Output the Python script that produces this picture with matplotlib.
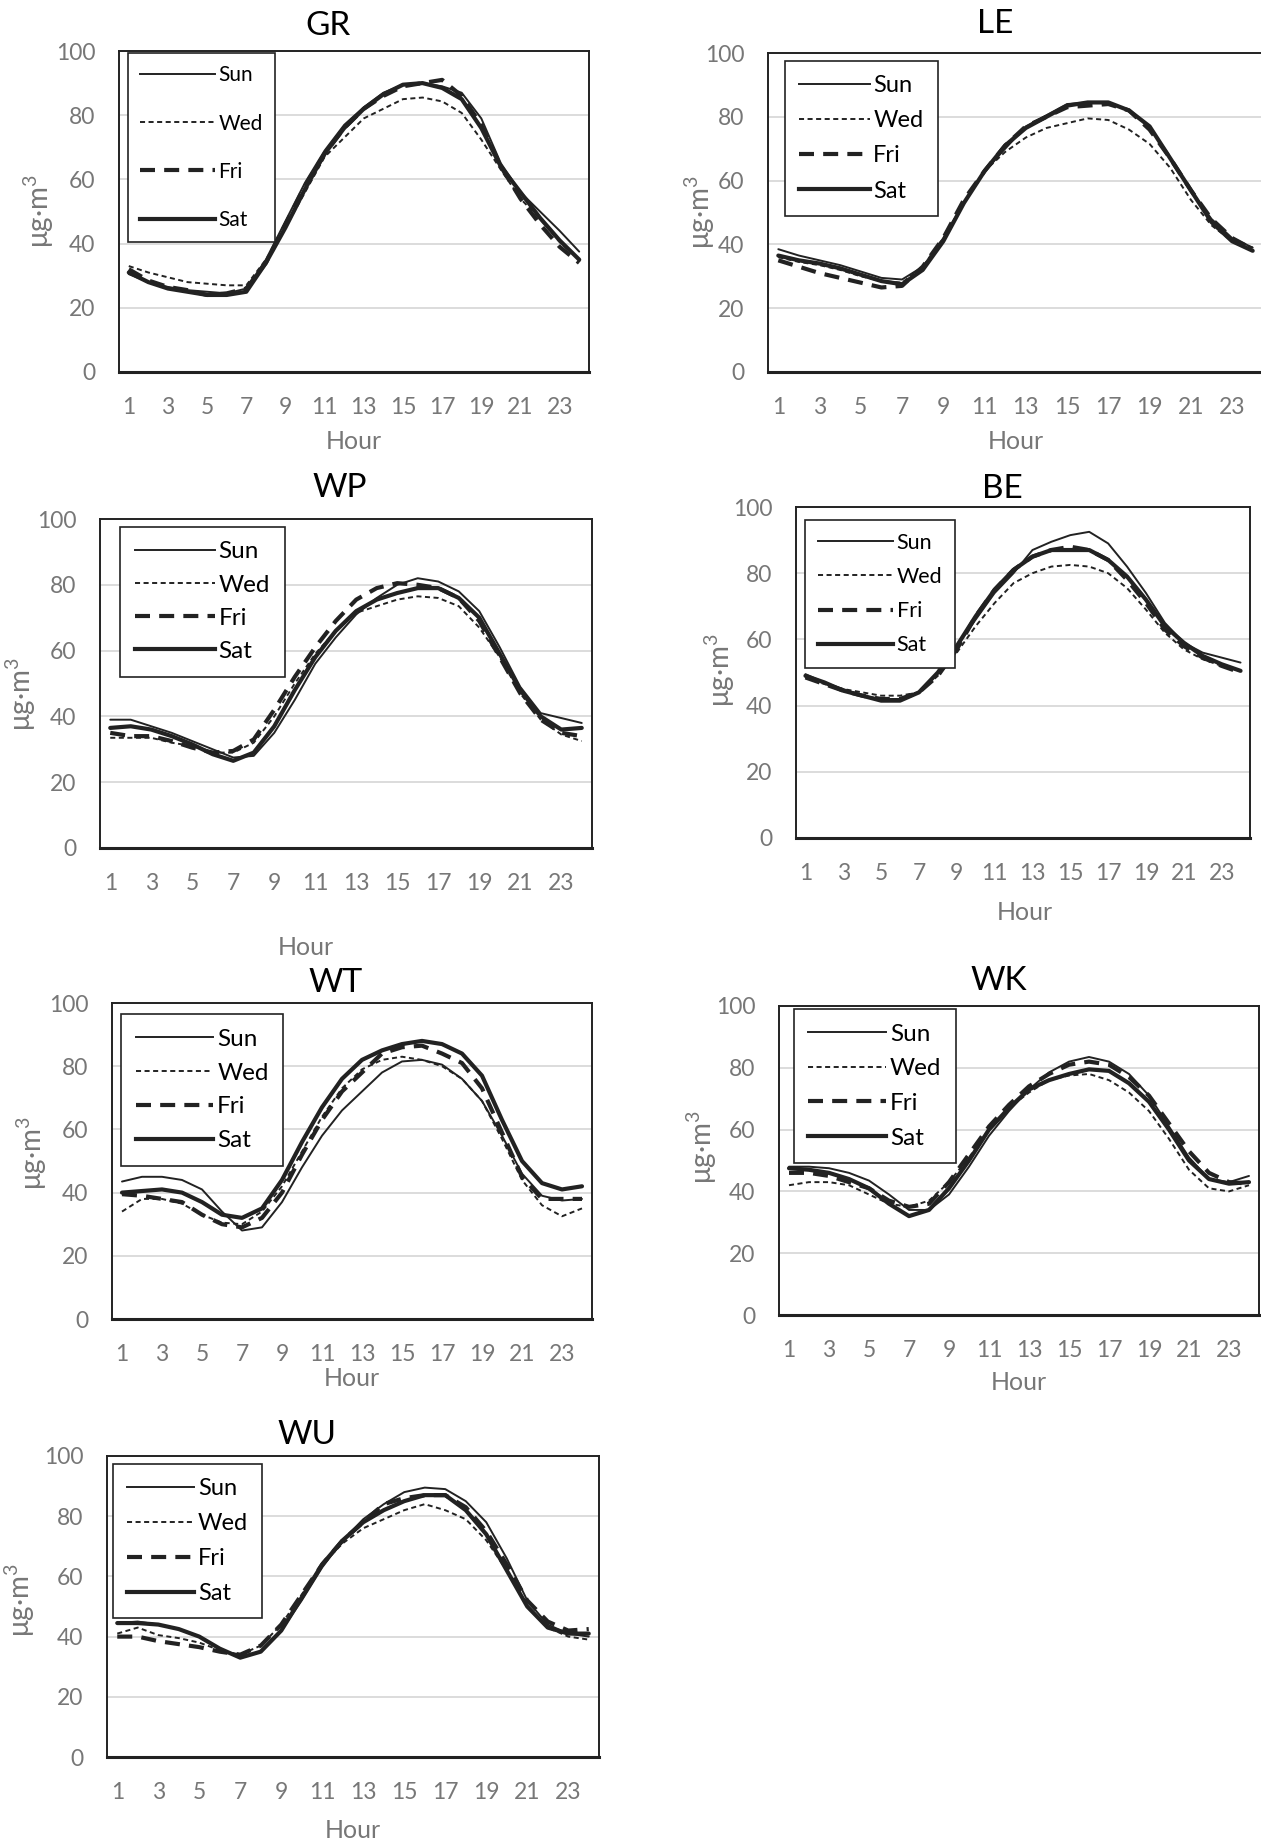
import matplotlib
matplotlib.use("Agg")
import matplotlib.pyplot as plt
from matplotlib.lines import Line2D

plt.rcParams['font.family'] = ['Lato', 'DejaVu Sans']
plt.rcParams['mathtext.fontset'] = 'custom'
plt.rcParams['mathtext.rm'] = 'Lato'
plt.rcParams['mathtext.it'] = 'Lato'

# hours of the day
hours = list(range(1, 25))
days = ["Sun", "Wed", "Fri", "Sat"]

# ---- data (ug/m3) ----
gr_sun = [30.5, 28, 26.5, 25.5, 25, 24.5, 26, 35, 47, 59, 69, 77, 82.5, 87, 89.5, 90, 89, 87, 79, 65, 56, 50, 44, 37.5]
gr_wed = [33, 31, 29.5, 28, 27.5, 27, 27, 35, 45, 56, 67, 73, 79, 82, 85, 85.5, 84.3, 80.7, 72.4, 63, 54, 47.7, 40.5, 35]
gr_fri = [32, 28.5, 26.5, 25.5, 24, 24.5, 26, 34, 46, 58, 68, 76, 82, 86, 89, 90, 91, 86, 77, 64, 54, 46, 39, 34]
gr_sat = [31, 28, 26, 25, 24, 24, 25, 34, 45, 57, 68, 76, 82, 86.5, 89.5, 90, 88.5, 85, 76, 64, 56, 48, 41, 35]

le_sun = [38.5, 36.5, 35, 33.5, 31.5, 29.5, 29, 33, 42, 53, 63, 70, 77, 80.5, 84, 84.5, 84.5, 82, 77, 67, 57, 48, 42, 39]
le_wed = [36, 34.5, 33.5, 32, 30, 28.5, 28, 33, 42, 53, 63, 69, 73.5, 76.5, 78, 79.5, 79, 76, 71.5, 64, 54, 46, 41, 39]
le_fri = [35, 33, 31, 29.5, 28, 26.5, 27, 33, 42, 54, 63, 71, 77, 80, 83, 83.5, 84, 82, 76, 67, 57, 48, 42, 38.5]
le_sat = [36.5, 35, 34, 32.5, 30.5, 28.5, 27.5, 32, 41, 53, 63, 71, 76.5, 80, 83.5, 84.5, 84.5, 82, 77, 67, 57, 47, 41, 38]

wp_sun = [39, 39, 37, 35, 32.5, 30, 27.5, 28, 35, 45, 56, 64, 71, 76, 80, 82, 81, 78, 72, 61, 49, 41, 39.5, 38]
wp_wed = [33.5, 33.5, 33.5, 32, 31, 29, 29, 32, 40, 50, 59, 66, 71.5, 73.5, 75.5, 76.5, 76, 73.5, 67, 58, 47, 39, 34.5, 32.5]
wp_fri = [35, 34, 34, 32.5, 30.5, 29, 29.5, 33, 42, 52, 61, 69, 75.5, 79, 80.5, 80, 79, 76, 69, 58, 47, 39, 35, 34]
wp_sat = [36.5, 37, 36, 34, 31.5, 28.5, 26.5, 29, 37, 48, 58, 66, 72, 75.5, 77.5, 79, 79, 76, 70, 59, 48, 40, 36, 36.5]

be_sun = [49.5, 47, 45, 43, 42, 42, 44, 50, 58, 66, 74, 80, 87, 89.5, 91.5, 92.5, 89, 82, 74, 65, 59, 56, 54.5, 53]
be_wed = [48.5, 46.5, 45, 44, 43, 43, 44, 49, 56, 64, 71, 77, 80, 82, 82.5, 82, 80, 75.5, 69, 62, 57, 54, 52, 50.5]
be_fri = [48.5, 46.5, 44.5, 43, 42, 42, 44, 49, 57, 67, 75, 81, 85, 87, 88, 87, 84, 78, 71, 63, 58, 54.5, 52, 50]
be_sat = [49, 47, 44.5, 43, 41.5, 41.5, 44, 50, 58, 67, 75, 81, 85, 87, 87, 87, 84, 79, 72, 64, 59, 55, 52.5, 50.5]

wt_sun = [43.5, 45, 45, 44, 41, 34, 28, 29, 37, 48, 58, 66, 72, 78, 81.5, 82, 80.5, 76, 69, 58, 46, 39, 37.5, 38]
wt_wed = [34, 38, 38, 36.5, 33, 30.5, 30, 34, 42, 53, 64, 73, 79, 82, 83, 82, 80, 76, 69, 57, 44, 36, 32.5, 35]
wt_fri = [39.5, 39, 38, 37, 33, 30, 29, 32, 40, 52, 63, 72, 78, 84, 86, 86.5, 84, 81, 73, 59, 45, 38, 38, 38]
wt_sat = [40, 40.5, 41, 40, 37, 33, 32, 35, 44, 56, 67, 76, 82, 85, 87, 88, 87, 84, 77, 63, 50, 43, 41, 42]

wk_sun = [48, 48, 47.5, 46, 43.5, 39, 34, 34, 39, 48, 58, 66, 73, 78.5, 82, 83.5, 82, 78, 71, 61, 51, 44, 43, 45]
wk_wed = [42, 43, 43, 42, 39, 36, 35, 37, 43, 51, 60, 67, 72, 76, 77.5, 78, 76, 72, 66, 57, 47, 41, 40, 42]
wk_fri = [46, 46, 45, 43, 41, 37, 35, 36, 43, 52, 61, 68, 74, 78, 81, 82, 81, 77, 71, 62, 53, 46, 43, 42.5]
wk_sat = [47.5, 47, 46, 44, 41, 36, 32, 34, 41, 50, 60, 67, 73, 76, 78, 79.5, 79, 75, 69, 60, 50, 44, 42.5, 43]

wu_sun = [44.5, 45, 44, 42.5, 40, 36, 33, 35, 42, 52, 63, 72, 79, 84, 88, 89.5, 89, 85, 78, 66, 52, 44, 41, 40]
wu_wed = [41, 43, 40.5, 39.5, 38, 35.5, 34, 37, 44, 54, 64, 71, 76, 79, 82, 84, 82, 79, 72, 62, 50, 43, 40, 39]
wu_fri = [40, 40, 38.5, 37.5, 36.5, 35, 34, 37, 44, 54, 64, 72, 78, 84, 86, 87, 87, 83, 75, 64, 52, 45, 42, 42.5]
wu_sat = [44.5, 44.5, 44, 42.5, 40, 36, 33, 35, 42, 53, 64, 72, 78, 82, 85, 87, 87, 82, 74, 62, 50, 43, 41, 41]

# ---- figure ----
W, H = 1261, 1845
fig = plt.figure(figsize=(W / 100, H / 100), dpi=100)

ink = "#222222"
gray = "#777777"
styles = {
    "Sun": dict(lw=1.4, ls="-"),
    "Wed": dict(lw=1.4, ls=(0, (2.6, 1.8))),
    "Fri": dict(lw=3.0, ls=(0, (3.6, 2.2))),
    "Sat": dict(lw=3.0, ls="-"),
}

# name, series, axes box in px (l, t, r, b), title pos, legend anchor,
# legend font / spacing / handle length, xlabel pos, ylabel pos
panels = [
    ("GR", [gr_sun, gr_wed, gr_fri, gr_sat], (119, 51, 589, 372), (0.445, 1.078), (0.019, 0.994), (15, 1.35, 3.6), (0.5, -0.218), (-0.171, 0.5)),
    ("LE", [le_sun, le_wed, le_fri, le_sat], (768, 53, 1263, 372), (0.458, 1.092), (0.034, 0.975), (17, 0.6, 3.0), (0.5, -0.219), (-0.138, 0.5)),
    ("WP", [wp_sun, wp_wed, wp_fri, wp_sat], (100, 519, 592, 848), (0.488, 1.094), (0.041, 0.976), (17.5, 0.5, 3.3), (0.419, -0.301), (-0.16, 0.468)),
    ("BE", [be_sun, be_wed, be_fri, be_sat], (796, 507, 1250, 838), (0.454, 1.054), (0.02, 0.961), (15.5, 0.66, 3.5), (0.503, -0.226), (-0.167, 0.506)),
    ("WT", [wt_sun, wt_wed, wt_fri, wt_sat], (112, 1003, 592, 1319), (0.465, 1.063), (0.019, 0.965), (17.5, 0.53, 3.2), (0.5, -0.189), (-0.167, 0.526)),
    ("WK", [wk_sun, wk_wed, wk_fri, wk_sat], (779, 1006, 1259, 1315), (0.458, 1.081), (0.031, 0.99), (17.5, 0.56, 3.2), (0.5, -0.217), (-0.16, 0.544)),
    ("WU", [wu_sun, wu_wed, wu_fri, wu_sat], (107, 1456, 599, 1757), (0.407, 1.07), (0.012, 0.973), (17, 0.59, 2.85), (0.5, -0.243), (-0.177, 0.52)),
]

for name, series, box, tpos, lpos, lfmt, xl, yl in panels:
    l, t, r, b = box
    ax = fig.add_axes([l / W, 1 - b / H, (r - l) / W, (b - t) / H])
    for day, vals in zip(days, series):
        ax.plot(hours, vals, color=ink, label=day, solid_capstyle="round", **styles[day])

    ax.set_xlim(0.5, 24.5)
    ax.set_ylim(0, 100)
    ax.set_xticks(hours[::2])
    ax.set_yticks(range(0, 101, 20))
    ax.grid(axis="y", color="#d9d9d9", lw=1.3)
    ax.set_axisbelow(True)
    ax.tick_params(length=0, labelsize=16.5, colors=gray)
    ax.tick_params(axis="y", pad=17)
    ax.tick_params(axis="x", pad=18)
    for s in ["top", "left", "right"]:
        ax.spines[s].set_linewidth(1.4)
        ax.spines[s].set_color(ink)
    ax.spines["bottom"].set_linewidth(2.2)
    ax.spines["bottom"].set_color(ink)

    ax.text(tpos[0], tpos[1], name, transform=ax.transAxes, ha="center", va="center",
            fontsize=24, color="black")

    ax.set_xlabel("Hour", fontsize=18, color=gray)
    ax.xaxis.set_label_coords(*xl)
    ax.xaxis.label.set_va("center")
    ax.set_ylabel("μg·m$^3$", fontsize=20, color=gray)
    ax.yaxis.set_label_coords(*yl)
    ax.yaxis.label.set_va("center")

    fs, lsp, hl = lfmt
    handles = [Line2D([], [], color=ink, **styles[d]) for d in days]
    leg = ax.legend(handles, days, loc="upper left", bbox_to_anchor=lpos, borderaxespad=0,
                    fancybox=False, framealpha=1, edgecolor=ink, fontsize=fs,
                    handlelength=hl, handletextpad=0.15, labelspacing=lsp, borderpad=0.6)
    leg.get_frame().set_linewidth(1.2)

fig.savefig("out.png", dpi=100)
